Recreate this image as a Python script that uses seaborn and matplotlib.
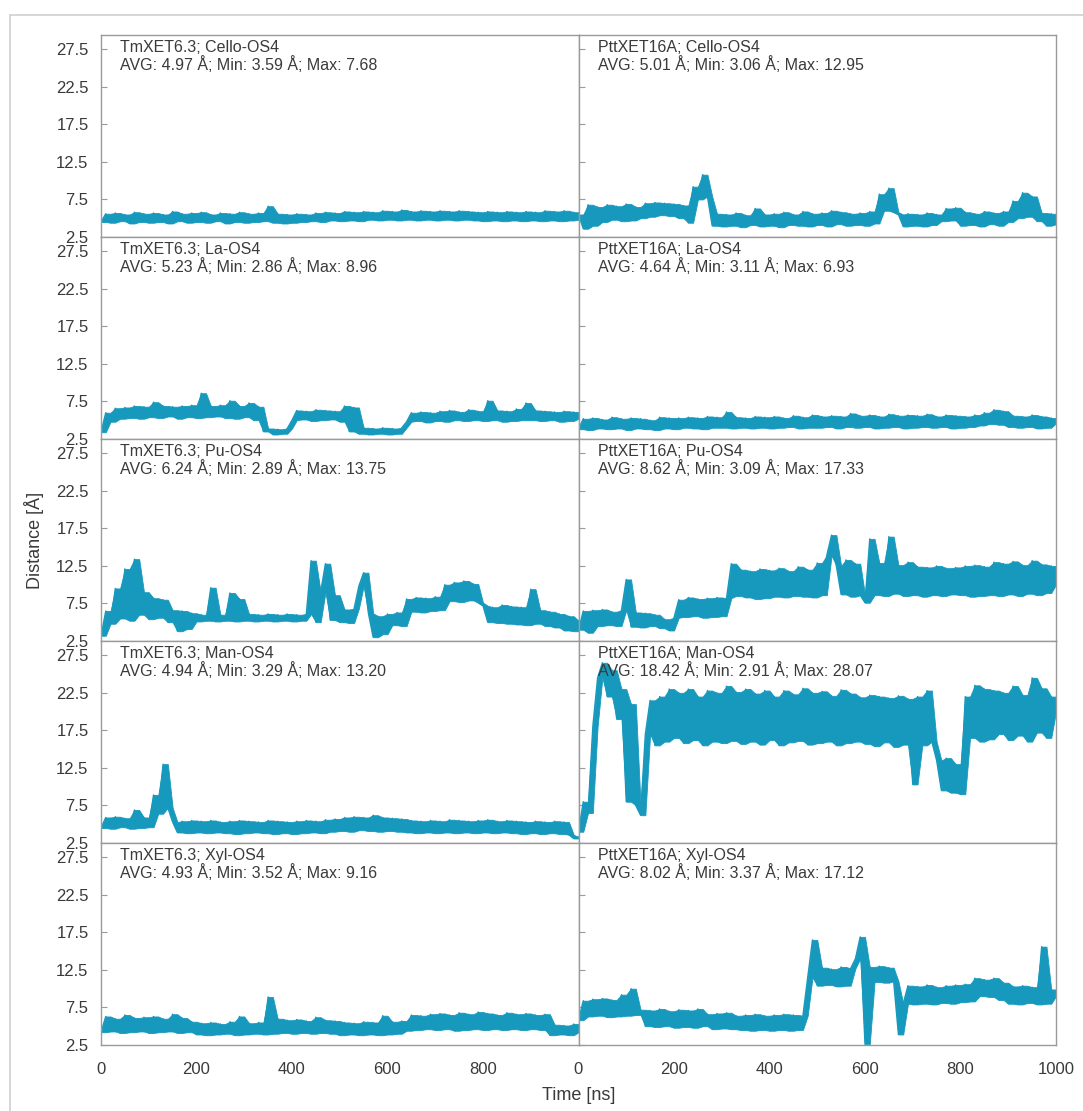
import matplotlib
matplotlib.use("Agg")
import matplotlib.pyplot as plt
from matplotlib.lines import Line2D
import pandas as pd
import seaborn as sns

# ---------------- data ----------------
time_ns = list(range(0, 1001, 10))

tm_cello = [4.5, 5.6, 4.4, 5.7, 4.6, 5.5, 4.3, 5.8, 4.5, 5.6,
            4.4, 5.7, 4.5, 5.5, 4.3, 5.9, 4.6, 5.6, 4.4, 5.7,
            4.5, 5.8, 4.4, 5.5, 4.6, 5.7, 4.3, 5.6, 4.5, 5.8,
            4.4, 5.6, 4.5, 5.7, 4.6, 6.6, 4.4, 5.6, 4.3, 5.5,
            4.4, 5.6, 4.5, 5.5, 4.6, 5.7, 4.5, 5.8, 4.7, 5.7,
            4.6, 5.9, 4.7, 5.8, 4.6, 5.9, 4.8, 5.8, 4.7, 6.0,
            4.8, 5.9, 4.7, 6.1, 4.8, 5.9, 4.7, 6.0, 4.8, 5.9,
            4.7, 6.0, 4.8, 5.9, 4.7, 6.0, 4.8, 5.9, 4.7, 5.8,
            4.6, 5.9, 4.7, 5.8, 4.6, 5.9, 4.7, 5.8, 4.6, 5.9,
            4.7, 5.8, 4.6, 6.0, 4.7, 5.9, 4.6, 6.0, 4.7, 5.8,
            4.8]

ptt_cello = [5.5, 3.6, 6.8, 4.0, 6.5, 4.5, 6.8, 4.8, 6.6, 4.6,
             6.9, 4.7, 6.5, 5.0, 7.0, 5.2, 7.1, 5.4, 7.0, 5.3,
             6.9, 5.0, 6.7, 4.4, 9.2, 7.5, 10.8, 7.9, 4.0, 5.6,
             3.9, 5.5, 4.0, 5.7, 3.8, 5.4, 4.1, 6.3, 3.9, 5.5,
             4.0, 5.6, 3.8, 5.8, 4.1, 5.5, 4.0, 5.9, 3.9, 5.6,
             4.1, 5.7, 3.9, 6.0, 4.2, 5.8, 4.0, 5.6, 4.1, 5.7,
             4.0, 5.9, 4.3, 8.2, 6.0, 9.0, 5.8, 5.5, 3.9, 5.6,
             4.0, 5.5, 3.9, 5.7, 4.1, 5.5, 4.6, 6.3, 4.7, 6.4,
             4.0, 5.8, 4.1, 5.6, 3.9, 5.9, 4.2, 5.7, 4.0, 5.9,
             4.5, 7.3, 5.0, 8.4, 5.2, 7.9, 4.6, 5.7, 4.0, 5.6,
             4.2]

tm_la = [3.4, 6.0, 4.8, 6.6, 5.2, 6.7, 5.3, 6.9, 5.2, 6.8,
         5.4, 7.4, 5.3, 6.9, 5.5, 6.8, 5.2, 6.9, 5.4, 7.0,
         5.3, 8.6, 5.4, 6.9, 5.5, 7.0, 5.3, 7.6, 5.2, 6.9,
         5.4, 7.3, 5.0, 6.8, 3.5, 3.9, 3.1, 3.8, 3.2, 3.9,
         5.0, 6.3, 5.1, 6.2, 4.9, 6.4, 5.0, 6.3, 5.1, 6.2,
         4.8, 6.9, 3.5, 6.7, 3.2, 4.0, 3.1, 3.9, 3.2, 4.0,
         3.1, 3.9, 3.2, 4.0, 4.8, 6.0, 4.9, 6.1, 4.7, 6.0,
         4.9, 6.2, 4.8, 6.3, 5.0, 6.1, 4.9, 6.4, 5.0, 6.2,
         4.9, 7.6, 5.0, 6.3, 4.8, 6.2, 4.9, 6.5, 5.0, 7.3,
         5.0, 6.3, 4.9, 6.2, 5.0, 6.1, 4.8, 6.2, 4.9, 6.1,
         5.2]

ptt_la = [3.8, 5.2, 3.7, 5.3, 3.9, 5.1, 3.8, 5.4, 3.9, 5.2,
          3.7, 5.3, 3.9, 5.2, 3.8, 5.0, 3.7, 5.4, 3.9, 5.3,
          3.8, 5.3, 4.0, 5.4, 3.9, 5.3, 3.8, 5.5, 4.0, 5.4,
          4.0, 6.1, 3.9, 5.4, 4.0, 5.3, 3.9, 5.5, 4.0, 5.4,
          3.9, 5.5, 4.0, 5.3, 4.1, 5.6, 3.9, 5.4, 4.0, 5.7,
          4.0, 5.5, 4.1, 5.6, 3.9, 5.5, 4.1, 5.9, 4.0, 5.6,
          4.1, 5.7, 3.9, 5.5, 4.0, 5.8, 4.1, 5.6, 3.9, 5.7,
          4.0, 5.6, 4.1, 5.8, 4.0, 5.5, 4.1, 5.7, 3.9, 5.6,
          4.0, 5.5, 4.1, 5.7, 4.3, 6.0, 4.5, 6.4, 4.4, 6.2,
          4.1, 5.6, 4.0, 5.5, 4.1, 5.7, 3.9, 5.5, 4.0, 5.3,
          4.6]

tm_pu = [3.2, 6.5, 4.8, 9.5, 5.5, 12.1, 5.2, 13.4, 6.0, 9.0,
         5.4, 8.2, 5.6, 8.0, 5.0, 6.6, 3.8, 6.5, 4.1, 6.2,
         5.1, 6.0, 5.2, 9.6, 5.1, 6.0, 5.2, 8.9, 5.1, 8.1,
         5.2, 6.1, 5.1, 6.0, 5.2, 6.1, 5.1, 6.0, 5.2, 6.1,
         5.1, 6.0, 5.2, 6.1, 13.2, 5.0, 9.0, 12.8, 5.3, 8.6,
         5.0, 6.7, 4.9, 6.8, 9.8, 11.6, 6.2, 3.0, 5.8, 3.4,
         6.1, 4.6, 6.3, 4.5, 8.1, 6.4, 8.3, 6.3, 8.2, 6.5,
         8.4, 6.6, 10.0, 7.8, 10.3, 7.7, 10.5, 7.9, 10.1, 7.6,
         7.2, 5.0, 7.0, 4.9, 7.3, 4.8, 7.1, 4.7, 7.0, 4.6,
         9.4, 4.8, 6.6, 4.5, 6.4, 4.3, 6.1, 3.9, 5.8, 3.8,
         5.2]

ptt_pu = [4.0, 6.5, 3.6, 6.6, 4.5, 6.7, 4.6, 6.4, 4.5, 6.6,
          10.7, 4.4, 6.3, 4.3, 6.2, 4.5, 6.0, 4.2, 5.4, 3.9,
          5.6, 8.0, 5.7, 8.3, 5.8, 8.1, 5.6, 8.2, 5.7, 8.3,
          5.8, 8.2, 12.8, 8.5, 12.0, 8.3, 11.8, 8.1, 12.1, 8.2,
          11.9, 8.4, 12.2, 8.3, 11.8, 8.5, 12.4, 8.4, 12.0, 8.3,
          12.9, 8.6, 13.9, 16.6, 12.5, 8.7, 13.3, 8.4, 12.8, 8.6,
          7.6, 16.1, 8.6, 12.9, 8.5, 16.4, 8.8, 12.6, 8.5, 13.0,
          8.6, 12.4, 8.4, 12.3, 8.6, 12.5, 8.5, 12.2, 8.7, 12.3,
          8.6, 12.5, 8.4, 12.6, 8.5, 12.4, 8.6, 13.0, 8.5, 12.8,
          8.7, 13.1, 8.5, 12.6, 8.8, 13.2, 8.6, 12.7, 8.9, 12.5,
          10.0]

tm_man = [4.5, 5.9, 4.4, 6.0, 4.6, 5.8, 4.4, 6.9, 4.5, 5.9,
          4.6, 8.9, 6.4, 13.0, 7.2, 5.3, 3.9, 5.4, 3.8, 5.5,
          3.9, 5.4, 3.8, 5.5, 3.9, 5.3, 3.8, 5.4, 3.7, 5.5,
          3.8, 5.4, 3.9, 5.3, 3.8, 5.5, 3.7, 5.4, 3.8, 5.3,
          3.7, 5.4, 3.8, 5.5, 3.9, 5.4, 3.8, 5.6, 4.0, 5.7,
          4.1, 5.9, 4.0, 6.0, 4.2, 5.9, 4.1, 6.2, 4.0, 5.9,
          4.1, 5.8, 4.0, 5.7, 3.9, 5.5, 3.8, 5.4, 3.9, 5.5,
          3.8, 5.4, 3.9, 5.6, 3.8, 5.5, 3.9, 5.4, 3.8, 5.5,
          3.9, 5.6, 3.8, 5.4, 3.9, 5.5, 3.8, 5.4, 3.7, 5.3,
          3.8, 5.4, 3.7, 5.3, 3.8, 5.4, 3.7, 5.3, 3.6, 3.1,
          3.3]

ptt_man = [4.0, 8.0, 6.5, 18.0, 24.5, 26.5, 22.0, 25.5, 19.0, 23.0,
           8.0, 21.0, 7.5, 6.2, 17.0, 21.5, 15.5, 22.0, 16.0, 23.0,
           16.5, 22.5, 15.8, 23.0, 16.2, 22.0, 15.5, 22.8, 16.0, 22.5,
           15.8, 23.4, 16.1, 22.6, 15.7, 23.0, 16.0, 22.4, 15.6, 22.8,
           16.2, 22.0, 15.5, 22.8, 15.9, 22.3, 16.1, 23.1, 15.6, 22.5,
           15.8, 22.7, 16.0, 22.1, 15.5, 22.9, 15.8, 22.4, 16.0, 21.9,
           15.7, 22.2, 15.4, 22.0, 15.9, 21.8, 15.3, 22.1, 15.6, 21.7,
           10.3, 22.0, 15.5, 22.8, 16.0, 13.5, 9.5, 13.8, 9.2, 13.0,
           9.0, 22.0, 16.5, 23.5, 16.0, 23.0, 16.3, 22.8, 17.0, 22.5,
           16.2, 23.4, 16.8, 22.2, 16.0, 24.5, 17.2, 23.1, 16.5, 22.0,
           20.0]

tm_xyl = [4.2, 6.3, 4.3, 6.0, 4.1, 6.5, 4.2, 6.1, 4.3, 6.2,
          4.1, 6.3, 4.2, 6.0, 4.3, 6.6, 4.1, 6.1, 4.2, 5.6,
          3.9, 5.4, 3.8, 5.5, 3.9, 5.3, 4.0, 5.6, 3.8, 6.3,
          3.9, 5.4, 4.0, 5.5, 3.9, 8.9, 4.0, 6.0, 4.1, 5.8,
          4.0, 5.9, 4.1, 5.7, 4.0, 6.2, 4.1, 5.8, 4.0, 5.7,
          3.8, 5.5, 3.9, 5.4, 3.8, 5.6, 3.9, 5.5, 3.8, 6.4,
          3.9, 5.6, 4.0, 5.7, 4.4, 6.5, 4.5, 6.4, 4.6, 6.6,
          4.5, 6.7, 4.6, 6.5, 4.4, 6.8, 4.5, 6.6, 4.6, 6.9,
          4.5, 6.7, 4.6, 6.5, 4.5, 6.8, 4.6, 6.6, 4.5, 6.7,
          4.6, 6.5, 4.5, 6.6, 3.8, 5.2, 3.9, 5.1, 3.8, 5.3,
          4.2]

ptt_xyl = [5.8, 8.4, 6.3, 8.6, 6.4, 8.7, 6.2, 8.5, 6.3, 9.2,
           6.4, 10.0, 6.5, 7.2, 5.0, 7.1, 4.9, 7.3, 5.0, 7.0,
           4.8, 7.2, 4.9, 7.1, 4.8, 7.3, 5.0, 6.6, 4.6, 6.7,
           4.7, 6.8, 4.6, 6.4, 4.5, 6.5, 4.4, 6.6, 4.5, 6.4,
           4.4, 6.5, 4.5, 6.6, 4.4, 6.5, 4.5, 6.4, 11.5, 16.5,
           10.4, 12.8, 10.5, 12.6, 10.3, 12.9, 10.4, 12.7, 14.0, 16.9,
           2.6, 12.9, 10.9, 13.0, 10.8, 12.8, 11.0, 3.9, 8.0, 10.4,
           7.9, 10.3, 8.0, 10.5, 7.9, 10.2, 8.1, 10.4, 8.0, 10.5,
           8.2, 10.6, 8.3, 11.4, 9.0, 11.2, 8.9, 11.4, 8.5, 10.8,
           8.0, 10.3, 7.9, 10.4, 8.1, 10.2, 7.9, 15.6, 8.0, 9.9,
           9.0]

panel_series = [[tm_cello, ptt_cello], [tm_la, ptt_la], [tm_pu, ptt_pu],
                [tm_man, ptt_man], [tm_xyl, ptt_xyl]]
enzymes = ["TmXET6.3", "PttXET16A"]
substrates = ["Cello-OS4", "La-OS4", "Pu-OS4", "Man-OS4", "Xyl-OS4"]
avg_vals = [[4.97, 5.01], [5.23, 4.64], [6.24, 8.62], [4.94, 18.42], [4.93, 8.02]]
min_vals = [[3.59, 3.06], [2.86, 3.11], [2.89, 3.09], [3.29, 2.91], [3.52, 3.37]]
max_vals = [[7.68, 12.95], [8.96, 6.93], [13.75, 17.33], [13.20, 28.07], [9.16, 17.12]]
y_ticks = [2.5, 7.5, 12.5, 17.5, 22.5, 27.5]
x_ticks = [0, 200, 400, 600, 800, 1000]

# ---------------- style ----------------
sns.set_theme(style="white")
plt.rcParams['font.family'] = ['Liberation Sans', 'DejaVu Sans']
line_color = "#1699bd"
spine_color = "#9a9a9a"
text_color = "#3a3a3a"

W, H = 1083, 1111
fig, axes = plt.subplots(5, 2, figsize=(W / 100, H / 100), dpi=100)
fig.subplots_adjust(left=101 / W, right=1056 / W, top=1 - 35 / H,
                    bottom=1 - 1045 / H, wspace=0, hspace=0)

for r in range(5):
    for c in range(2):
        ax = axes[r, c]
        s = pd.Series(panel_series[r][c], index=time_ns)
        # fluctuation band swept by the trace between consecutive frames
        lo = s.rolling(2, min_periods=1).min()
        hi = s.rolling(2, min_periods=1).max()
        ax.fill_between(time_ns, lo.values, hi.values, color=line_color,
                        linewidth=0.6, edgecolor=line_color)
        sns.lineplot(x=time_ns, y=panel_series[r][c], ax=ax, color=line_color,
                     linewidth=1.0, estimator=None)
        ax.set_xlim(0, 1000)
        ax.set_ylim(2.5, 29.4)
        ax.set_xlabel("")
        ax.set_ylabel("")
        ax.set_yticks(y_ticks)
        ax.set_yticklabels([f"{v:.1f}" for v in y_ticks])
        ax.set_xticks(x_ticks)
        if r == 4:
            labels = [str(v) for v in x_ticks]
            if c == 0:
                labels[-1] = ""
            ax.set_xticklabels(labels)
        else:
            ax.set_xticklabels([""] * len(x_ticks))
        ax.tick_params(axis="both", direction="in", length=4, width=0.8,
                       color=spine_color, labelsize=12, labelcolor=text_color)
        ax.tick_params(axis="x", pad=12)
        ax.tick_params(axis="y", labelleft=(c == 0), left=True, pad=9)
        for sp in ax.spines.values():
            sp.set_color(spine_color)
            sp.set_linewidth(1.0)
        txt = (f"{enzymes[c]}; {substrates[r]}\n"
               f"AVG: {avg_vals[r][c]:.2f} Å; Min: {min_vals[r][c]:.2f} Å; "
               f"Max: {max_vals[r][c]:.2f}")
        ax.text(0.04, 0.975, txt, transform=ax.transAxes, ha="left", va="top",
                fontsize=11.5, color=text_color, linespacing=1.05, zorder=5)

fig.text(34 / W, 1 - 540 / H, "Distance [Å]", rotation=90, ha="center",
         va="center", fontsize=13, color=text_color)
fig.text(579 / W, 1 - 1095 / H, "Time [ns]", ha="center", va="center",
         fontsize=13, color=text_color)

# outer light frame of the original figure
fig.add_artist(Line2D([10 / W, 1.0], [1 - 15 / H, 1 - 15 / H],
                      transform=fig.transFigure, color="#cfcfcf", lw=1.2))
fig.add_artist(Line2D([10 / W, 10 / W], [0.0, 1 - 15 / H],
                      transform=fig.transFigure, color="#cfcfcf", lw=1.2))

fig.savefig("out.png", dpi=100, facecolor="white")
